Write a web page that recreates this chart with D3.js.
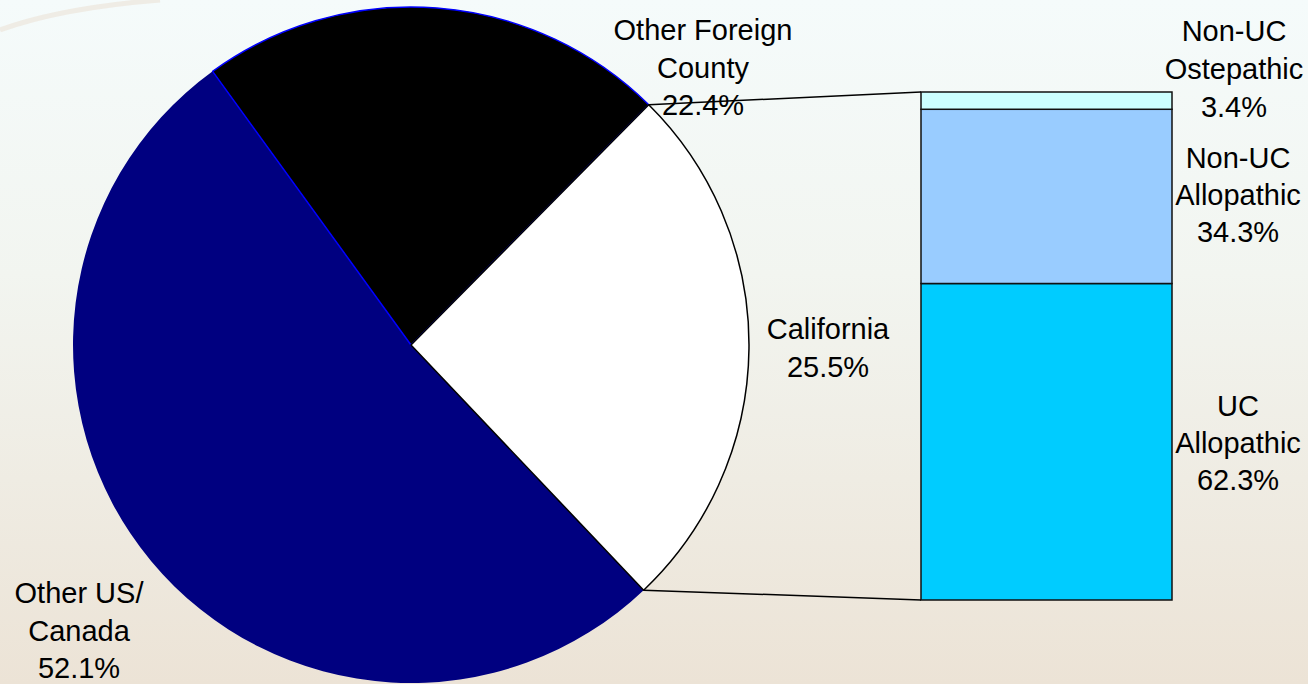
<!DOCTYPE html>
<html>
<head>
<meta charset="utf-8">
<script src="https://cdn.jsdelivr.net/npm/d3@7/dist/d3.min.js"></script>
<style>
  html, body { margin: 0; padding: 0; overflow: hidden; }
  svg { display: block; }
  text { font-family: "Liberation Sans", Arial, sans-serif; fill: #000; }
</style>
</head>
<body>
<svg id="chart" width="1308" height="684"></svg>
<script>
// ---- data ----
const pieCategories = ["California", "Other US/\nCanada", "Other Foreign\nCounty"];
const pieValues = [25.5, 52.1, 22.4];
const pieColors = ["#ffffff", "#000080", "#000000"];
const pieStrokes = ["#000000", "none", "#0000ff"];

const barCategories = ["UC\nAllopathic", "Non-UC\nAllopathic", "Non-UC\nOstepathic"];
const barValues = [62.3, 34.3, 3.4];
const barColors = ["#00ccff", "#99ccff", "#ccffff"];

const W = 1308, H = 684;
const svg = d3.select("#chart");

// background
const defs = svg.append("defs");
const grad = defs.append("linearGradient").attr("id", "bg").attr("x1", 0).attr("y1", 0).attr("x2", 0).attr("y2", 1);
grad.append("stop").attr("offset", "0%").attr("stop-color", "#f5fbfb");
grad.append("stop").attr("offset", "40%").attr("stop-color", "#f2f5f0");
grad.append("stop").attr("offset", "100%").attr("stop-color", "#ece3d6");
svg.append("rect").attr("width", W).attr("height", H).attr("fill", "url(#bg)");
svg.append("path").attr("d", "M0,30 Q60,8 160,0").attr("fill", "none")
  .attr("stroke", "#ece6dc").attr("stroke-width", 5).attr("opacity", 0.7);

// ---- pie ----
const cx = 411, cy = 345, R = 338;
const total = d3.sum(pieValues);
const calSpan = pieValues[0] / total * 2 * Math.PI;
const centerAngle = 90.6 * Math.PI / 180;
const start = centerAngle - calSpan / 2;
const pie = d3.pie().sort(null).value(d => d).startAngle(start).endAngle(start + 2 * Math.PI);
const arcs = pie(pieValues);
const arc = d3.arc().innerRadius(0).outerRadius(R);

const g = svg.append("g").attr("transform", `translate(${cx},${cy})`);
const drawOrder = [1, 2, 0];
drawOrder.forEach(i => {
  g.append("path").attr("d", arc(arcs[i]))
    .attr("fill", pieColors[i])
    .attr("stroke", pieStrokes[i])
    .attr("stroke-width", pieStrokes[i] === "none" ? 0 : 1.5)
    .attr("stroke-linejoin", "round");
});

// ---- bar ----
const barX = 921, barW = 251;
const y = d3.scaleLinear().domain([0, d3.sum(barValues)]).range([600, 92]);
const stacks = [];
let acc = 0;
barValues.forEach((v, i) => { stacks.push({ i, y0: acc, y1: acc + v }); acc += v; });
svg.append("g").selectAll("rect").data(stacks).join("rect")
  .attr("x", barX).attr("width", barW)
  .attr("y", d => y(d.y1)).attr("height", d => y(d.y0) - y(d.y1))
  .attr("fill", d => barColors[d.i])
  .attr("stroke", "#111").attr("stroke-width", 1.5);

// connectors
const calArc = arcs[0];
function pt(a) { return [cx + R * Math.sin(a), cy - R * Math.cos(a)]; }
const pTop = pt(calArc.startAngle), pBot = pt(calArc.endAngle);
svg.append("line").attr("x1", pTop[0]).attr("y1", pTop[1]).attr("x2", barX).attr("y2", y(acc))
  .attr("stroke", "#000").attr("stroke-width", 1.5);
svg.append("line").attr("x1", pBot[0]).attr("y1", pBot[1]).attr("x2", barX).attr("y2", y(0))
  .attr("stroke", "#000").attr("stroke-width", 1.5);

// ---- labels ----
function label(lines, x, y0, step) {
  const t = svg.append("text").attr("text-anchor", "middle").attr("font-size", 29);
  lines.forEach((l, k) => t.append("tspan").attr("x", x).attr("y", y0 + k * step).text(l));
}
function lines(cat, v) { return cat.split("\n").concat([v.toFixed(1) + "%"]); }
label(lines(pieCategories[2], pieValues[2]), 703, 40, 37.5);
label(lines(pieCategories[0], pieValues[0]), 828, 339, 37.5);
label(lines(pieCategories[1], pieValues[1]), 79, 603, 37.5);
label(lines(barCategories[2], barValues[2]), 1234, 41, 38);
label(lines(barCategories[1], barValues[1]), 1238, 168, 37);
label(lines(barCategories[0], barValues[0]), 1238, 416, 37);
</script>
</body>
</html>
